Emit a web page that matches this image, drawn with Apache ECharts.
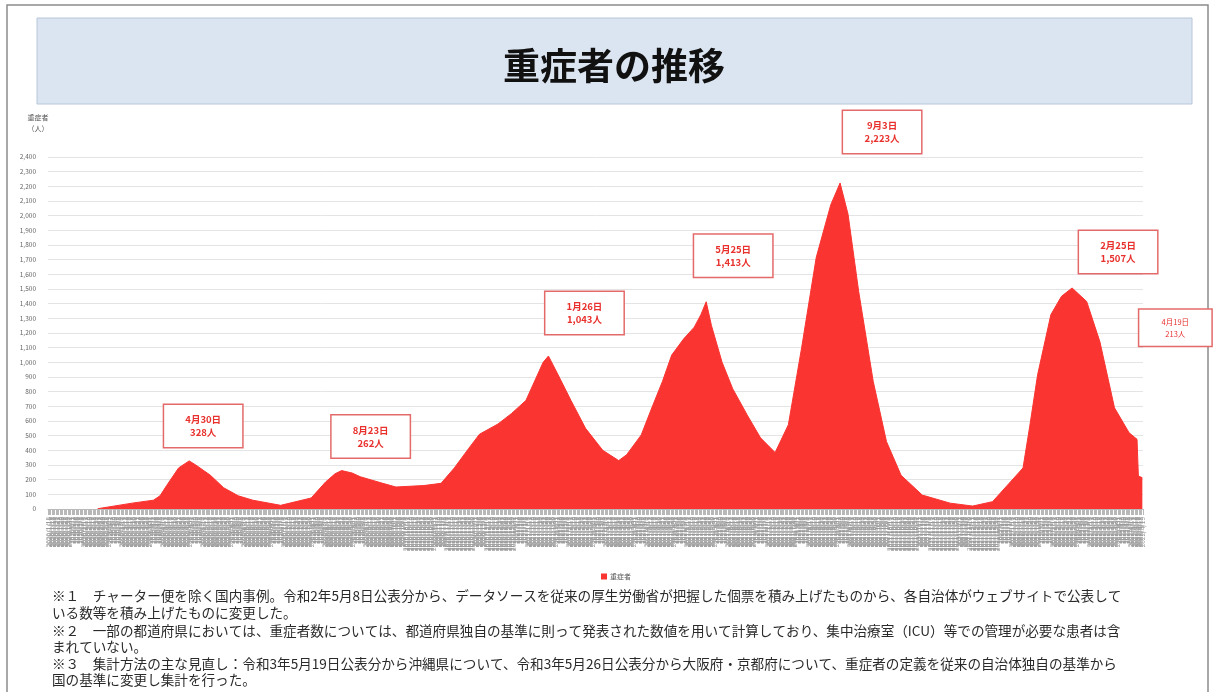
<!DOCTYPE html>
<html>
<head>
<meta charset="utf-8">
<title>重症者の推移</title>
<script src="https://cdn.jsdelivr.net/npm/echarts@6/dist/echarts.min.js"></script>
<style>
  html, body { margin: 0; padding: 0; background: #ffffff; }
  #chart { width: 1216px; height: 692px; }
</style>
</head>
<body>
<div id="chart"></div>
<script>
// Daily axis range (reporting dates)
const firstDay = [2020, 1, 15];
const lastDay = [2022, 4, 19];

// Y axis ticks
const yMin = 0;
const yMax = 2400;
const yStep = 100;

// Severe cases: reporting date and count
const severeDates = [
  '2020/2/21', '2020/3/18', '2020/4/3', '2020/4/8', '2020/4/13', '2020/4/22', '2020/4/30',
  '2020/5/5', '2020/5/16', '2020/5/26', '2020/6/6', '2020/6/17', '2020/7/8',
  '2020/7/31', '2020/8/11', '2020/8/18', '2020/8/23', '2020/8/31', '2020/9/6',
  '2020/9/23', '2020/10/3', '2020/10/24', '2020/11/6', '2020/11/16', '2020/11/27',
  '2020/12/5', '2020/12/19', '2020/12/29', '2021/1/9', '2021/1/17', '2021/1/22', '2021/1/26',
  '2021/2/2', '2021/2/12', '2021/2/23', '2021/3/8', '2021/3/20', '2021/3/26',
  '2021/4/6', '2021/4/14', '2021/4/22', '2021/4/29', '2021/5/8', '2021/5/16', '2021/5/21', '2021/5/25',
  '2021/5/29', '2021/6/6', '2021/6/14', '2021/6/25', '2021/7/5', '2021/7/16',
  '2021/7/26', '2021/8/5', '2021/8/16', '2021/8/27', '2021/9/3',
  '2021/9/9', '2021/9/17', '2021/9/28', '2021/10/8', '2021/10/19',
  '2021/11/4', '2021/11/25', '2021/12/12', '2021/12/27',
  '2022/1/19', '2022/1/24', '2022/1/30', '2022/2/9', '2022/2/17', '2022/2/25',
  '2022/3/8', '2022/3/18', '2022/3/29', '2022/4/9', '2022/4/15', '2022/4/16', '2022/4/19'
];
const severeCounts = [
  2, 40, 60, 90, 160, 280, 328,
  300, 230, 145, 90, 60, 25,
  75, 185, 240, 262, 245, 220,
  175, 150, 160, 175, 280, 415,
  510, 580, 650, 740, 900, 1000, 1043,
  920, 740, 550, 400, 330, 370,
  505, 690, 870, 1050, 1160, 1240, 1325, 1413,
  1250, 1000, 820, 640, 485, 385,
  575, 1100, 1715, 2075, 2223,
  2010, 1485, 870, 460, 230,
  95, 40, 20, 50,
  280, 560, 915, 1325, 1450, 1507,
  1415, 1140, 690, 520, 475, 225, 213
];

// Dates called out with a boxed note
const noteDates = ['2020/4/30', '2020/8/23', '2021/1/26', '2021/5/25', '2021/9/3', '2022/2/25', '2022/4/19'];

const seriesName = '重症者';

const footnotes = [
  '※１　チャーター便を除く国内事例。令和2年5月8日公表分から、データソースを従来の厚生労働省が把握した個票を積み上げたものから、各自治体がウェブサイトで公表して',
  'いる数等を積み上げたものに変更した。',
  '※２　一部の都道府県においては、重症者数については、都道府県独自の基準に則って発表された数値を用いて計算しており、集中治療室（ICU）等での管理が必要な患者は含',
  'まれていない。',
  '※３　集計方法の主な見直し：令和3年5月19日公表分から沖縄県について、令和3年5月26日公表分から大阪府・京都府について、重症者の定義を従来の自治体独自の基準から',
  '国の基準に変更し集計を行った。'
];

// ---- build the daily category list ----
function fmt(d) {
  return d.getUTCFullYear() + '/' + (d.getUTCMonth() + 1) + '/' + d.getUTCDate();
}
const categories = [];
for (let t = Date.UTC(firstDay[0], firstDay[1] - 1, firstDay[2]);
     t <= Date.UTC(lastDay[0], lastDay[1] - 1, lastDay[2]); t += 86400000) {
  categories.push(fmt(new Date(t)));
}
const countByDate = {};
severeDates.forEach((d, i) => { countByDate[d] = severeCounts[i]; });
const seriesData = categories.map(c => (c in countByDate ? countByDate[c] : '-'));

// Note box placement (pixel offsets from the marked point)
const noteOffsets = [[14, -35], [29, -34], [36, -43], [27, -46], [42, -51], [46, -36], [33, -150]];

const RED = '#fa3431';
const FONT = '"Noto Sans CJK JP", "Noto Sans", sans-serif';

const markData = noteDates.map((d, i) => {
  const last = i === noteDates.length - 1;
  return {
    coord: [d, countByDate[d]],
    value: countByDate[d],
    name: d,
    label: {
      offset: noteOffsets[i],
      width: last ? 72 : 78,
      padding: last ? [6, 0] : [8, 0],
      lineHeight: last ? 12 : 13,
      fontSize: last ? 7.5 : 9.5,
      fontWeight: last ? 'normal' : 'bold'
    }
  };
});

const chart = echarts.init(document.getElementById('chart'), null, { renderer: 'canvas' });

const graphics = [
  { type: 'rect', shape: { x: 7, y: 5, width: 1201, height: 700 },
    style: { fill: 'none', stroke: '#8c8c8c', lineWidth: 1.5 }, silent: true },
  { type: 'rect', shape: { x: 37, y: 18, width: 1155, height: 86 },
    style: { fill: '#dbe5f1', stroke: '#b7c6da', lineWidth: 1 }, silent: true },
  { type: 'text', x: 614, y: 66,
    style: { text: '重症者の推移', fill: '#111111', font: 'bold 37px ' + FONT,
             textAlign: 'center', textVerticalAlign: 'middle' } },
  { type: 'text', x: 38, y: 117,
    style: { text: '重症者', fill: '#555555', font: '7px ' + FONT,
             textAlign: 'center', textVerticalAlign: 'middle' } },
  { type: 'text', x: 38, y: 128,
    style: { text: '（人）', fill: '#555555', font: '7px ' + FONT,
             textAlign: 'center', textVerticalAlign: 'middle' } }
];
const footY = [596, 613, 631, 647, 664, 680];
footnotes.forEach((line, i) => {
  graphics.push({
    type: 'text', x: 52, y: footY[i],
    style: { text: line, fill: '#2a2a2a', font: '13.6px ' + FONT,
             textAlign: 'left', textVerticalAlign: 'middle' }
  });
});

chart.setOption({
  animation: false,
  backgroundColor: '#ffffff',
  grid: { left: 48, right: 73, top: 157, bottom: 183, containLabel: false },
  legend: {
    data: [seriesName],
    left: 596, top: 568,
    icon: 'rect', itemWidth: 6, itemHeight: 6, itemGap: 4,
    textStyle: { fontSize: 7, color: '#555555', fontFamily: FONT, padding: [0, 0, 0, -2] }
  },
  xAxis: {
    type: 'category',
    data: categories,
    boundaryGap: true,
    axisLine: { show: true, lineStyle: { color: '#bdbdbd' } },
    axisTick: { show: true, interval: 0, length: 6, lineStyle: { color: '#b8b8b8', width: 1 } },
    axisLabel: { interval: 0, rotate: 90, fontSize: 6.5, color: '#9a9a9a', margin: 8, fontFamily: FONT },
    splitLine: { show: false }
  },
  yAxis: {
    type: 'value',
    min: yMin, max: yMax, interval: yStep,
    axisLine: { show: false },
    axisTick: { show: false },
    axisLabel: {
      fontSize: 6.5, color: '#666666', margin: 12, fontFamily: FONT,
      formatter: v => v.toLocaleString('en-US')
    },
    splitLine: { show: true, lineStyle: { color: '#e4e4e4', width: 1 } }
  },
  series: [{
    name: seriesName,
    type: 'line',
    data: seriesData,
    connectNulls: true,
    showSymbol: false,
    symbol: 'none',
    itemStyle: { color: RED },
    lineStyle: { color: RED, width: 1 },
    areaStyle: { color: RED, opacity: 1 },
    markPoint: {
      symbol: 'rect',
      symbolSize: 1,
      itemStyle: { color: 'rgba(0,0,0,0)' },
      label: {
        show: true,
        position: 'inside',
        align: 'center',
        verticalAlign: 'middle',
        color: '#e8302c',
        fontFamily: FONT,
        backgroundColor: '#ffffff',
        borderColor: '#e46a6a',
        borderWidth: 1.5,
        formatter: p => {
          const parts = p.name.split('/');
          return parts[1] + '月' + parts[2] + '日\n' + Number(p.value).toLocaleString('en-US') + '人';
        }
      },
      data: markData
    }
  }],
  graphic: graphics
});
</script>
</body>
</html>
